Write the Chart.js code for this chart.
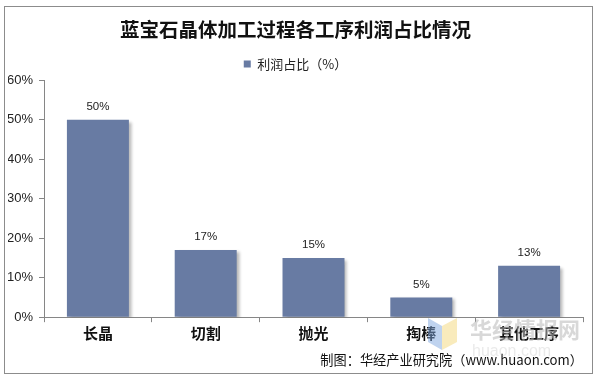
<!DOCTYPE html>
<html>
<head>
<meta charset="utf-8">
<script src="https://cdn.jsdelivr.net/npm/chart.js@4/dist/chart.umd.min.js"></script>
<style>
html,body{margin:0;padding:0;background:#fff;}
#wrap{width:598px;height:380px;position:relative;}
</style>
</head>
<body>
<div id="wrap"><canvas id="c" width="598" height="380"></canvas></div>
<script>
const categories = ['长晶', '切割', '抛光', '掏棒', '其他工序'];
const profitShare = [50, 17, 15, 5, 13];
const yTicks = [0, 10, 20, 30, 40, 50, 60];
const titleText = '蓝宝石晶体加工过程各工序利润占比情况';
const seriesName = '利润占比（%）';
const sourceText = '制图：华经产业研究院（www.huaon.com）';

const barColor = '#687ba3';
const axisColor = '#868686';

const framePlugin = {
  id: 'frame',
  beforeDraw(chart) {
    const ctx = chart.ctx;
    ctx.save();
    ctx.fillStyle = '#fff';
    ctx.fillRect(0, 0, chart.width, chart.height);
    ctx.strokeStyle = '#8c8c8c';
    ctx.lineWidth = 1;
    ctx.strokeRect(4.5, 6.5, 588, 367);
    ctx.restore();
  }
};

const shiftPlugin = {
  id: 'shift',
  afterLayout(chart) {
    if (chart.subtitle) { chart.subtitle.left += 6; chart.subtitle.right += 6; }
  }
};

const shadowPlugin = {
  id: 'barShadow',
  beforeDatasetDraw(chart) {
    const ctx = chart.ctx;
    ctx.save();
    ctx.shadowColor = 'rgba(0,0,0,0.28)';
    ctx.shadowOffsetX = 3;
    ctx.shadowOffsetY = 2;
    ctx.shadowBlur = 3;
  },
  afterDatasetDraw(chart) {
    chart.ctx.restore();
  }
};

const labelPlugin = {
  id: 'valueLabels',
  afterDatasetsDraw(chart) {
    const ctx = chart.ctx;
    const meta = chart.getDatasetMeta(0);
    ctx.save();
    ctx.font = '11.5px "Liberation Sans", Arial, sans-serif';
    ctx.fillStyle = '#222';
    ctx.textAlign = 'center';
    ctx.textBaseline = 'middle';
    meta.data.forEach((bar, i) => {
      ctx.fillText(chart.data.datasets[0].data[i] + '%', bar.x, bar.y - 13);
    });
    ctx.restore();
  }
};

const watermarkPlugin = {
  id: 'watermark',
  afterDraw(chart) {
    const ctx = chart.ctx;
    ctx.save();
    ctx.globalAlpha = 0.5;
    ctx.fillStyle = '#7fa7e0';
    ctx.beginPath();
    ctx.moveTo(428, 318); ctx.lineTo(442, 326); ctx.lineTo(442, 350); ctx.lineTo(428, 342); ctx.closePath();
    ctx.fill();
    ctx.fillStyle = '#f3d77a';
    ctx.beginPath();
    ctx.moveTo(442, 326); ctx.lineTo(457, 318); ctx.lineTo(457, 342); ctx.lineTo(442, 350); ctx.closePath();
    ctx.fill();
    ctx.globalAlpha = 0.55;
    ctx.fillStyle = '#b8b8b8';
    ctx.font = 'bold 22px "Noto Sans CJK SC", sans-serif';
    ctx.textAlign = 'left';
    ctx.textBaseline = 'middle';
    ctx.fillText('华经情报网', 470, 330);
    ctx.globalAlpha = 0.3;
    ctx.font = '16px "Liberation Sans", Arial, sans-serif';
    ctx.fillText('huaon.com', 472, 352);
    ctx.restore();
  }
};

const ctx = document.getElementById('c').getContext('2d');
new Chart(ctx, {
  type: 'bar',
  data: {
    labels: categories,
    datasets: [{
      label: seriesName,
      data: profitShare,
      backgroundColor: barColor,
      borderWidth: 0,
      categoryPercentage: 1.0,
      barPercentage: 0.575
    }]
  },
  options: {
    responsive: false,
    animation: false,
    devicePixelRatio: 1,
    layout: { padding: { top: 18, left: 8, right: 15, bottom: 12 } },
    plugins: {
      title: {
        display: true,
        text: titleText,
        color: '#111',
        font: { family: '"Noto Sans CJK SC", sans-serif', size: 19.5, weight: 'bold' },
        padding: { top: 0, bottom: 11 }
      },
      legend: {
        display: true,
        position: 'top',
        labels: {
          boxWidth: 7,
          boxHeight: 7,
          color: '#222',
          font: { family: '"Noto Sans CJK SC", sans-serif', size: 13 },
          padding: 5
        }
      },
      subtitle: {
        display: true,
        text: sourceText,
        position: 'bottom',
        align: 'end',
        color: '#111',
        font: { family: '"Noto Sans CJK SC", sans-serif', size: 13.2 },
        padding: { top: 8, bottom: 0 }
      },
      tooltip: { enabled: false }
    },
    scales: {
      x: {
        grid: { display: true, drawOnChartArea: false, drawTicks: true, tickLength: 5, color: axisColor, offset: true },
        border: { display: true, color: axisColor },
        ticks: {
          color: '#111',
          font: { family: '"Noto Sans CJK SC", sans-serif', size: 15, weight: 'bold' },
          padding: 2,
          maxRotation: 0
        }
      },
      y: {
        min: 0,
        max: 60,
        afterBuildTicks(axis) { axis.ticks = yTicks.map(v => ({ value: v })); },
        afterFit(axis) { axis.width = 36; },
        grid: { display: true, drawOnChartArea: false, drawTicks: true, tickLength: 5, color: axisColor },
        border: { display: true, color: axisColor },
        ticks: {
          color: '#222',
          font: { family: '"Liberation Sans", Arial, sans-serif', size: 13 },
          padding: 6,
          callback: v => v + '%'
        }
      }
    }
  },
  plugins: [framePlugin, shiftPlugin, shadowPlugin, labelPlugin, watermarkPlugin]
});
</script>
</body>
</html>
